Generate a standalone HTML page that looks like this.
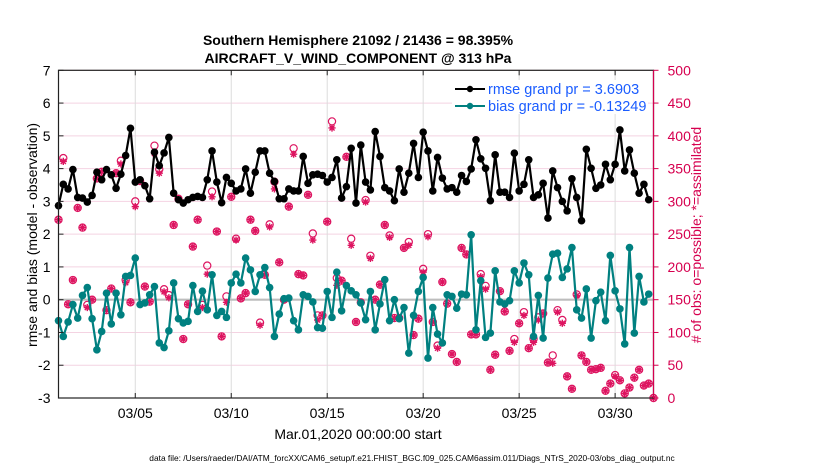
<!DOCTYPE html>
<html><head><meta charset="utf-8"><style>
html,body{margin:0;padding:0;background:#fff;}
svg{display:block;font-family:"Liberation Sans",sans-serif;}
</style></head><body>
<svg id="chart" width="830" height="470" viewBox="0 0 830 470">
<text x="358" y="45" text-anchor="middle" font-size="14" font-weight="bold">Southern Hemisphere 21092 / 21436 = 98.395%</text>
<text x="358" y="63" text-anchor="middle" font-size="14" font-weight="bold">AIRCRAFT_V_WIND_COMPONENT @ 313 hPa</text>
<g id="grid"></g>
<g id="obs"></g>
<g id="lines"></g>
<g id="axes"></g>
<text transform="translate(37,235) rotate(-90)" text-anchor="middle" font-size="14">rmse and bias (model - observation)</text>
<text transform="translate(701,235) rotate(-90)" text-anchor="middle" font-size="14" fill="#d6004f"># of obs: o=possible; *=assimilated</text>
<text x="358" y="439" text-anchor="middle" font-size="14">Mar.01,2020 00:00:00 start</text>
<text x="412" y="461" text-anchor="middle" font-size="8.4">data file: /Users/raeder/DAI/ATM_forcXX/CAM6_setup/f.e21.FHIST_BGC.f09_025.CAM6assim.011/Diags_NTrS_2020-03/obs_diag_output.nc</text>
<g>
<rect x="452" y="80" width="196" height="34" fill="#fff"/>
<line x1="455" y1="89" x2="485" y2="89" stroke="#000" stroke-width="2"/>
<circle cx="470" cy="89" r="3.2" fill="#000"/>
<text x="488" y="94" font-size="14.5" fill="#1a5cff">rmse grand pr = 3.6903</text>
<line x1="455" y1="106" x2="485" y2="106" stroke="#008080" stroke-width="2"/>
<circle cx="470" cy="106" r="3.2" fill="#008080"/>
<text x="488" y="111" font-size="14.5" fill="#1a5cff">bias grand pr = -0.13249</text>
</g>
</svg>
<script>
const rmse=[2.87,3.52,3.38,3.97,3.12,3.10,2.98,3.18,3.89,3.66,3.97,3.81,3.40,3.83,4.40,5.23,3.59,3.66,3.48,3.08,4.50,4.09,4.48,4.95,3.25,3.05,2.95,3.05,3.12,3.15,3.12,3.66,4.54,
3.59,2.96,3.73,3.55,3.32,3.38,3.99,3.25,3.89,4.54,4.54,3.86,3.61,3.08,3.08,3.38,3.32,3.32,4.37,3.55,3.81,3.83,3.79,3.59,3.73,4.27,3.10,3.45,4.62,2.95,4.72,
3.59,3.35,5.13,4.37,3.42,3.32,3.02,3.99,3.28,3.86,4.77,3.73,5.11,4.54,3.32,4.34,3.71,3.38,3.42,3.28,3.79,3.61,3.99,4.88,4.30,4.01,3.02,4.42,3.28,3.28,
3.12,4.47,3.32,3.52,4.27,3.12,3.20,3.55,2.49,3.93,3.42,3.00,2.71,3.69,3.12,2.41,4.59,4.01,3.40,3.50,4.13,3.66,4.13,5.18,3.93,4.57,3.86,3.25,3.52,3.05];
const bias=[-0.64,-1.12,-0.68,-0.15,-0.56,0.13,0.37,-0.58,-1.53,-0.97,0.20,-0.74,0.20,-0.46,0.71,0.74,1.27,-0.15,-0.10,0.15,0.40,-1.32,-1.46,-0.95,0.51,-0.58,-0.71,-0.66,0.43,-0.36,0.26,-0.31,
0.76,-0.48,-0.36,-0.54,0.51,0.78,0.51,1.27,0.91,0.25,0.76,0.98,0.37,-1.12,-0.44,0.03,0.05,-0.64,-0.92,0.15,0.10,-0.07,-0.85,-0.87,0.25,-0.54,0.84,-0.34,0.43,0.27,0.15,-0.10,
-0.61,0.25,-0.92,-0.13,0.61,-0.64,0.0,-0.58,-0.24,-1.63,-0.48,0.25,0.68,-1.78,-0.24,-1.05,-1.32,0.15,0.10,-0.26,0.17,0.15,1.98,-0.92,0.58,-1.15,-1.02,0.88,-0.07,-0.13,
-0.03,0.88,0.51,1.12,0.76,-1.12,0.13,-1.17,0.66,1.39,1.42,0.68,0.94,1.59,-0.31,-0.56,0.33,-1.17,-0.03,0.23,-0.64,1.35,0.27,-0.28,-1.35,1.59,-1.02,0.71,-0.07,0.17];
const obsPossible=[272,366,143,180,290,260,142,150,335,345,134,167,343,362,180,146,300,331,170,147,385,349,166,157,264,304,90,143,231,272,142,202,315,
254,94,155,307,243,152,160,272,255,115,188,265,330,207,150,292,381,189,187,310,251,126,126,269,422,183,179,368,243,116,146,
302,217,150,173,264,248,122,122,229,238,96,121,197,250,116,80,177,144,67,55,229,219,97,97,189,171,43,66,163,132,
72,90,114,131,76,90,123,129,54,65,134,119,33,14,158,65,55,43,44,46,11,22,35,27,7,16,31,43,19,22,0];
const obsAssim=[272,361,143,180,290,260,138,150,335,345,134,167,343,357,176,146,292,331,170,147,373,343,162,153,264,304,90,143,231,272,138,189,307,
254,94,146,307,241,152,160,272,255,111,188,261,319,207,150,292,372,189,187,310,241,119,126,269,412,172,179,368,233,116,146,
299,213,150,173,264,245,122,122,229,233,96,121,192,246,116,76,177,144,67,55,229,219,97,97,185,166,43,66,163,132,
72,85,114,126,76,85,119,129,54,53,131,114,33,14,156,65,55,43,44,46,11,22,33,27,7,16,31,43,19,22,0];
const xTickDays=[4,9,14,19,24,29];
const xTickLabels=["03/05","03/10","03/15","03/20","03/25","03/30"];
const yTicks=[-3,-2,-1,0,1,2,3,4,5,6,7];
const y2Ticks=[0,50,100,150,200,250,300,350,400,450,500];

const NS="http://www.w3.org/2000/svg";
const L=58.5,R=653.5,T=70.3,B=398;
const X=d=>L+(d/31)*(R-L);
const Y=v=>B-(v+3)/10*(B-T);
const Y2=n=>B-n/500*(B-T);
const stepDays=0.25;
function mk(tag,attrs,parent){const e=document.createElementNS(NS,tag);for(const k in attrs)e.setAttribute(k,attrs[k]);parent.appendChild(e);return e;}
const grid=document.getElementById('grid'),axes=document.getElementById('axes'),lines=document.getElementById('lines'),obs=document.getElementById('obs');

yTicks.forEach(v=>{const g=mk('line',{x1:L,x2:R,y1:Y(v),y2:Y(v),stroke:'#f4d3e2','stroke-width':1},grid);


const t=mk('text',{x:L-8,y:Y(v)+5,'text-anchor':'end','font-size':14},axes);t.textContent=v;


mk('line',{x1:L,x2:L+5,y1:Y(v),y2:Y(v),stroke:'#222'},axes);});
xTickDays.forEach((d,i)=>{const g=mk('line',{x1:X(d),x2:X(d),y1:T,y2:B,stroke:'#dcdcdc','stroke-width':1},grid);


mk('line',{x1:X(d),x2:X(d),y1:B,y2:B-5,stroke:'#222'},axes);
mk('line',{x1:X(d),x2:X(d),y1:T,y2:T+5,stroke:'#222'},axes);
const t=mk('text',{x:X(d),y:418,'text-anchor':'middle','font-size':14},axes);t.textContent=xTickLabels[i];

});
y2Ticks.forEach(n=>{mk('line',{x1:R,x2:R+5,y1:Y2(n),y2:Y2(n),stroke:'#d6004f'},axes);
const t=mk('text',{x:R+14,y:Y2(n)+5,'font-size':14,fill:'#d6004f'},axes);t.textContent=n;

});
const zl=mk('line',{x1:L,x2:R,y1:Y(0),y2:Y(0),stroke:'#bdbdbd','stroke-width':2.2},grid);


mk('rect',{x:L,y:T,width:R-L,height:B-T,fill:'none',stroke:'#222','stroke-width':1.2},axes);
mk('line',{x1:R,x2:R,y1:T,y2:B,stroke:'#d6004f','stroke-width':1.2},axes);

function star(x,y,r,col,parent,w){let d='';for(let k=0;k<4;k++){const a=k*Math.PI/4;d+=`M${x-r*Math.cos(a)},${y-r*Math.sin(a)}L${x+r*Math.cos(a)},${y+r*Math.sin(a)}`;}return mk('path',{d:d,stroke:col,'stroke-width':w,fill:'none'},parent);}

obsPossible.forEach((n,i)=>{const x=X(i*stepDays);
const c=mk('circle',{cx:x,cy:Y2(n),r:3.6,fill:'none',stroke:'#dd1460','stroke-width':1.2},obs);


const s=star(x,Y2(obsAssim[i]),3.6,'#dd1460',obs,1.4);

});

function series(vals,col,name){const pts=vals.map((v,i)=>X(i*stepDays)+','+Y(v)).join(' ');
const p=mk('polyline',{points:pts,fill:'none',stroke:col,'stroke-width':2.2,'stroke-linejoin':'round'},lines);


vals.forEach((v,i)=>{const c=mk('circle',{cx:X(i*stepDays),cy:Y(v),r:3.8,fill:col},lines);

});}
series(bias,'#008080','bias');
series(rmse,'#000000','rmse');
</script>
</body></html>
